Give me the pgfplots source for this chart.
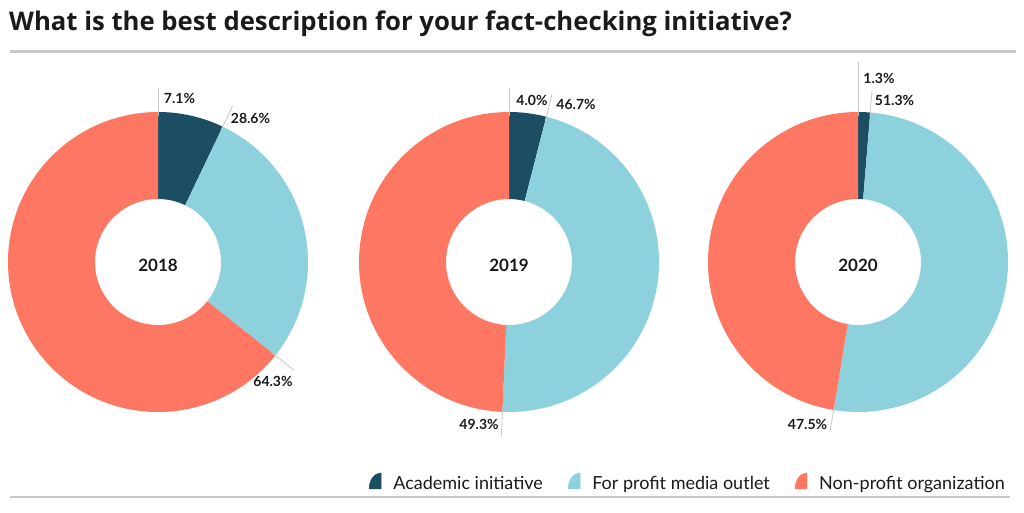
\documentclass[border=0pt]{standalone}
\usepackage{pgfplots}
\pgfplotsset{compat=1.18}
\usepackage{pgfplotstable}
\usepackage{fontspec}
\setmainfont{Lato}
\newfontfamily\titlefont{Open Sans}
\definecolor{acad}{HTML}{1C4E63}
\definecolor{prof}{HTML}{8DD1DD}
\definecolor{nonp}{HTML}{FD7762}
\definecolor{rulec}{HTML}{C8C8C8}
\definecolor{txt}{HTML}{1A1A1A}
\newcommand\myLabFont{\fontsize{14}{16}\selectfont\bfseries}
\newcommand\myYrFont{\fontsize{17}{20}\selectfont\bfseries}
\pgfdeclareplotmark{emptymark}{}

% cx cy: pie centre (px); start, pct: cumulative start and share (%);
% len: leader end radius; lx ly: label offset from centre
\pgfplotstableread{
cx cy start pct len lx ly
158 262 0 7.1 174 21.5 164
509 262 0 4.0 174 23 162
858 262 0 1.3 200 21 184
}\acadtab
\pgfplotstableread{
cx cy start pct len lx ly
158 262 7.1 28.6 173 92.5 144
509 262 4.0 46.7 173 67 158
858 262 1.3 51.3 172 36.5 162
}\proftab
\pgfplotstableread{
cx cy start pct len lx ly
158 262 35.7 64.3 174 115 -119
509 262 50.7 49.3 174 -30 -162
858 262 52.6 47.5 172 -50.5 -162
}\nonptab
\pgfplotstableread{
cx cy year
158 262 2018
509 262 2019
858 262 2020
}\yeartab

\pgfplotsset{
 donut/.style={
   only marks, mark=emptymark, forget plot,
   scatter,
   visualization depends on={\thisrow{start}\as\myDS},
   visualization depends on={\thisrow{pct}\as\myDP},
   visualization depends on={\thisrow{len}\as\myDL},
   scatter/@pre marker code/.code={%
     \pgfscope
     \pgfkeys{/pgf/fpu=true,/pgf/fpu/output format=fixed}%
     \pgfmathsetmacro\myAS{90-3.6*\myDS}%
     \pgfmathsetmacro\myAE{90-3.6*min(100,\myDS+\myDP)}%
     \pgfmathsetmacro\myRL{\myDL}%
     \pgfkeys{/pgf/fpu=false}%
     \pgfpathmoveto{\pgfpointpolar{\myAS}{63pt}}%
     \pgfpathlineto{\pgfpointpolar{\myAS}{150pt}}%
     \pgfpatharc{\myAS}{\myAE}{150pt}%
     \pgfpathlineto{\pgfpointpolar{\myAE}{63pt}}%
     \pgfpatharc{\myAE}{\myAS}{63pt}%
     \pgfpathclose
     \pgfsetfillcolor{#1}%
     \pgfusepath{fill}%
     \pgfpathmoveto{\pgfpointpolar{\myAS}{146pt}}%
     \pgfpathlineto{\pgfpointpolar{\myAS}{\myRL pt}}%
     \pgfsetstrokecolor{rulec}%
     \pgfsetlinewidth{0.8pt}%
     \pgfusepath{stroke}%
     \endpgfscope
   },
   scatter/@post marker code/.code={},
 },
 pctlabels/.style={
   only marks, mark=emptymark, forget plot,
   point meta=\thisrow{pct},
   visualization depends on={\thisrow{lx}\as\myDX},
   visualization depends on={\thisrow{ly}\as\myDY},
   nodes near coords={\pgfmathprintnumber[fixed,fixed zerofill,precision=1,assume math mode=true]{\pgfplotspointmeta}\%},
   every node near coord/.append style={anchor=center, font=\myLabFont, text=txt,
     xshift=\myDX pt, yshift=\myDY pt},
 },
 qicon/.style={legend image code/.code={\fill[#1] (12pt,-5pt) -- (0pt,-5pt) arc[start angle=180,end angle=90,x radius=12pt,y radius=16pt] -- cycle;}},
}

\begin{document}
\begin{tikzpicture}
\path[use as bounding box] (0,0) rectangle (1024pt,512pt);
\begin{axis}[at={(0,0)}, anchor=south west, width=1024pt, height=512pt, scale only axis,
  xmin=0, xmax=1024, ymin=0, ymax=512, y dir=reverse, hide axis, clip=false,
  legend columns=3,
  legend style={draw=none, fill=none, at={(axis cs:1010,483)}, anchor=east,
    font=\fontsize{18}{20}\selectfont, text=txt,
    /tikz/every odd column/.append style={column sep=10pt},
    /tikz/every even column/.append style={column sep=23pt}},
]
\addplot[donut=acad] table[x=cx, y=cy] {\acadtab};
\addplot[donut=prof] table[x=cx, y=cy] {\proftab};
\addplot[donut=nonp] table[x=cx, y=cy] {\nonptab};
\addplot[pctlabels] table[x=cx, y=cy] {\acadtab};
\addplot[pctlabels] table[x=cx, y=cy] {\proftab};
\addplot[pctlabels] table[x=cx, y=cy] {\nonptab};
\addlegendimage{qicon=acad}
\addlegendentry{Academic initiative}
\addlegendimage{qicon=prof}
\addlegendentry{For profit media outlet}
\addlegendimage{qicon=nonp}
\addlegendentry{Non-profit organization}
\addplot[only marks, mark=emptymark, forget plot,
  point meta=explicit symbolic, nodes near coords,
  every node near coord/.append style={anchor=center, font=\myYrFont, text=txt, yshift=-3pt}]
  table[x=cx, y=cy, meta=year] {\yeartab};
\node[anchor=base west, font=\titlefont\fontsize{25.7}{30}\selectfont\bfseries, text=txt, inner sep=0pt] at (axis cs:9,30) {What is the best description for your fact-checking initiative?};
\draw[rulec, line width=3pt] (axis cs:10,51) -- (axis cs:1016,51);
\draw[rulec, line width=2pt] (axis cs:10,497) -- (axis cs:1010,497);
\end{axis}
\end{tikzpicture}
\end{document}
